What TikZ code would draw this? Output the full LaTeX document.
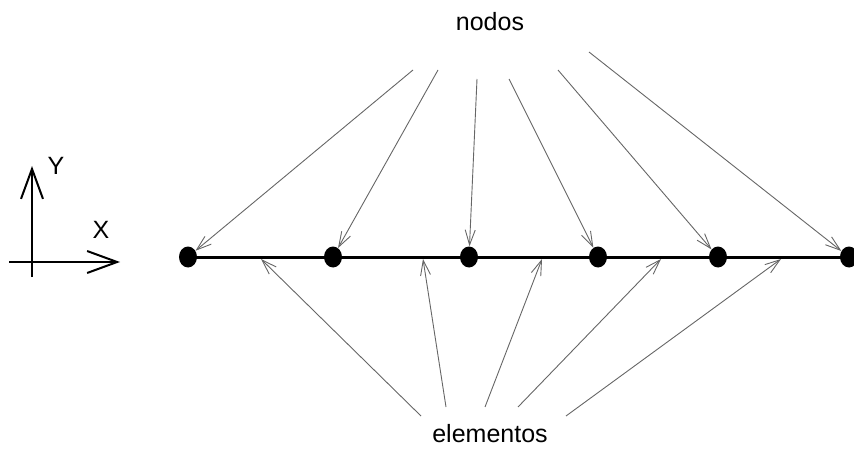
\documentclass[tikz,border=0pt]{standalone}
\usepackage{fontspec}
\setmainfont{Liberation Sans}
\usetikzlibrary{arrows.meta,shapes.geometric}
\tikzset{
  pt/.style={ellipse,fill=black,inner sep=0pt,minimum width=18,minimum height=21},
  ptr/.style={draw=black!60,line width=0.9pt,-{Straight Barb[length=15pt,width=10pt]}},
  axis/.style={line width=2pt,-{Straight Barb[length=30pt,width=22pt]}},
  lbl/.style={font=\fontsize{25}{30}\selectfont,inner sep=0pt,anchor=base}
}
\begin{document}
\begin{tikzpicture}[x=1pt,y=-1pt]
\useasboundingbox (0,0) rectangle (854,449);
% axes
\coordinate (yb) at (32,277);
\coordinate (yt) at (32,166);
\coordinate (xl) at (9,262);
\coordinate (xr) at (120,262);
\draw[axis] (yb) -- (yt);
\draw[axis] (xl) -- (xr);
\node[lbl] (Y) at (56,175) {Y};
\node[lbl] (X) at (101,238) {X};
% main line
\coordinate (L0) at (188,257);
\coordinate (L1) at (860,257);
\draw[line width=3pt] (L0) -- (L1);
\node[pt] (n1) at (188,257) {};
\node[pt] (n2) at (333,257) {};
\node[pt] (n3) at (469,257) {};
\node[pt] (n4) at (598,257) {};
\node[pt] (n5) at (718,257) {};
\node[pt] (n6) at (849,257) {};
% labels
\node[lbl] (nodos) at (490,31) {nodos};
\node[lbl] (elem) at (490,442) {elementos};
% top arrow starts
\coordinate (t1) at (413,70);
\coordinate (t2) at (438,70);
\coordinate (t3) at (477,79);
\coordinate (t4) at (509,79);
\coordinate (t5) at (558,70);
\coordinate (t6) at (589,52);
\draw[ptr] (t1) -- (n1);
\draw[ptr] (t2) -- (n2);
\draw[ptr] (t3) -- (n3);
\draw[ptr] (t4) -- (n4);
\draw[ptr] (t5) -- (n5);
\draw[ptr] (t6) -- (n6);
% bottom arrows
\coordinate (b1) at (421,416);
\coordinate (b2) at (446,407);
\coordinate (b3) at (485,407);
\coordinate (b4) at (518,407);
\coordinate (b5) at (566,416);
\coordinate (e1) at (261,259);
\coordinate (e2) at (423,259);
\coordinate (e3) at (542,259);
\coordinate (e4) at (661,259);
\coordinate (e5) at (781,259);
\draw[ptr] (b1) -- (e1);
\draw[ptr] (b2) -- (e2);
\draw[ptr] (b3) -- (e3);
\draw[ptr] (b4) -- (e4);
\draw[ptr] (b5) -- (e5);
\end{tikzpicture}
\end{document}
